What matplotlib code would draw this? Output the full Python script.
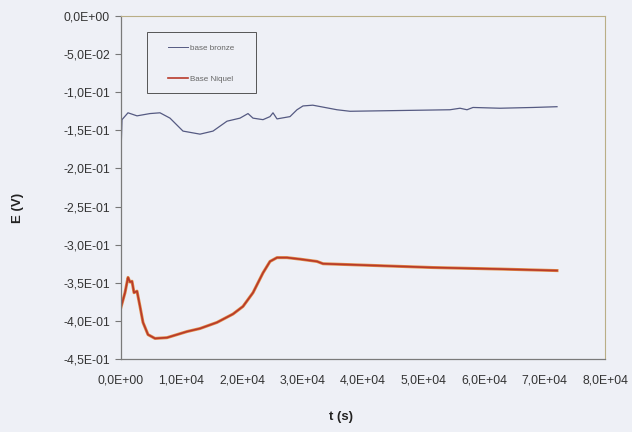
import matplotlib
matplotlib.use("Agg")
import matplotlib.pyplot as plt
from matplotlib.ticker import FuncFormatter, MultipleLocator
from matplotlib.lines import Line2D
from matplotlib.patches import Rectangle

plt.rcParams['font.family'] = ['Liberation Sans', 'DejaVu Sans']

# Data
t_bronze = [0, 165, 1157, 2645, 4793, 6446, 8099, 10248, 13058, 15207, 17521,
            19669, 20992, 21818, 23471, 24628, 25124, 25785, 27934, 29091,
            30083, 31700, 35702, 37851, 46116, 54380, 56033, 57190, 58182,
            62645, 68099, 72066]
e_bronze = [-0.179, -0.136, -0.127, -0.131, -0.128, -0.127, -0.134, -0.151,
            -0.155, -0.151, -0.138, -0.134, -0.128, -0.134, -0.136, -0.132,
            -0.127, -0.135, -0.132, -0.123, -0.118, -0.117, -0.123, -0.125,
            -0.124, -0.123, -0.121, -0.123, -0.120, -0.121, -0.120, -0.119]

t_niquel = [0, 661, 1157, 1488, 1818, 2149, 2645, 3140, 3636, 4463, 5620,
            7603, 10909, 13058, 15868, 18512, 20165, 21818, 23471, 24628,
            25785, 27438, 29587, 32397, 33388, 40661, 51570, 62645, 72066]
e_niquel = [-0.382, -0.363, -0.343, -0.349, -0.348, -0.363, -0.361, -0.381,
            -0.402, -0.418, -0.423, -0.422, -0.414, -0.410, -0.402, -0.391,
            -0.381, -0.363, -0.337, -0.322, -0.317, -0.317, -0.319, -0.322,
            -0.325, -0.327, -0.330, -0.332, -0.334]

labels = ["base bronze", "Base Niquel"]
x_label = "t (s)"
y_label = "E (V)"

W, H = 632, 432
bg = "#eef0f6"
c_bronze = "#555a82"
c_niquel = "#b83a2a"
fig = plt.figure(figsize=(W / 100, H / 100), dpi=100, facecolor=bg)
ax = fig.add_axes([121 / W, 1 - 359 / H, (605 - 121) / W, (359 - 16) / H])
ax.set_facecolor(bg)

ax.plot(t_niquel, e_niquel, color="#e08a48", lw=2.2, solid_joinstyle="round")
ax.plot(t_niquel, e_niquel, color=c_niquel, lw=1.2, solid_joinstyle="round")
ax.plot(t_bronze, e_bronze, color=c_bronze, lw=0.9, solid_joinstyle="round")

ax.set_xlim(0, 80000)
ax.set_ylim(-0.45, 0)
ax.xaxis.set_major_locator(MultipleLocator(10000))
ax.yaxis.set_major_locator(MultipleLocator(0.05))


def sci_comma(v, pos):
    if abs(v) < 1e-12:
        v = 0.0
    return ("%.1E" % v).replace(".", ",")


ax.xaxis.set_major_formatter(FuncFormatter(sci_comma))
ax.yaxis.set_major_formatter(FuncFormatter(sci_comma))
ax.tick_params(axis="y", length=4.5, width=0.8, color="#777777", pad=3.5,
               labelsize=8.8, labelcolor="#333333")
ax.tick_params(axis="x", length=0, pad=11, labelsize=8.8, labelcolor="#333333")

for s in ["left", "bottom"]:
    ax.spines[s].set_color("#7a7a7a")
    ax.spines[s].set_linewidth(0.9)
for s in ["top", "right"]:
    ax.spines[s].set_color("#b9ae86")
    ax.spines[s].set_linewidth(0.8)

# Legend box drawn in figure pixel coordinates
ax.add_patch(Rectangle((147 / W, 1 - 93 / H), (256 - 147) / W, (93 - 32) / H,
                       transform=fig.transFigure, facecolor=bg,
                       edgecolor="#555555", linewidth=0.7, zorder=4,
                       clip_on=False))
handles = [Line2D([], [], color=c_bronze, lw=0.7),
           Line2D([], [], color=c_niquel, lw=1.2)]
leg = ax.legend(handles, labels, loc="upper left",
                bbox_to_anchor=(168 / W, 1 - 44 / H),
                bbox_transform=fig.transFigure,
                fontsize=5.8, frameon=False,
                handlelength=2.5, handletextpad=0.2, labelspacing=2.9,
                borderpad=0, borderaxespad=0)
leg.set_zorder(6)
for txt in leg.get_texts():
    txt.set_color("#666666")

fig.text(18 / W, 1 - 208 / H, y_label, rotation=90, ha="center", va="center",
         fontsize=9.5, fontweight="bold", color="#222222")
fig.text(341 / W, 1 - 417 / H, x_label, ha="center", va="center",
         fontsize=9.5, fontweight="bold", color="#222222")

fig.savefig("out.png", dpi=100, facecolor=bg)
